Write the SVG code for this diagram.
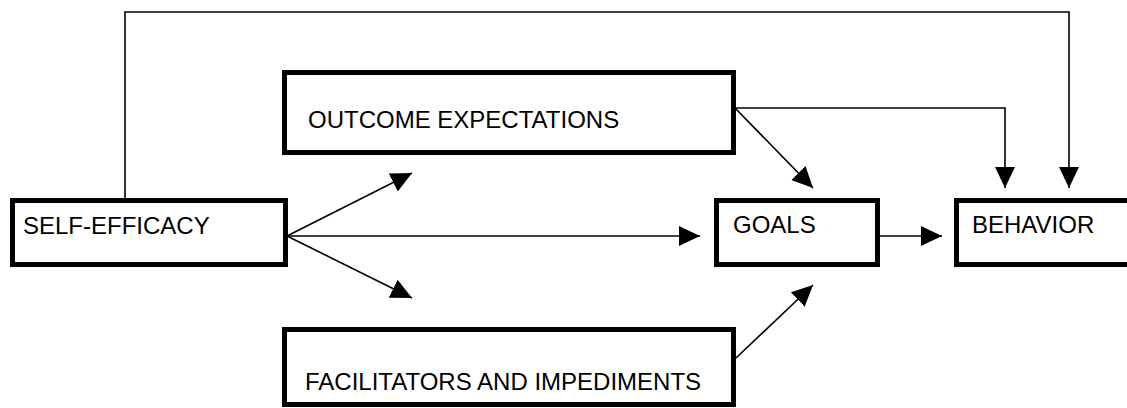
<svg xmlns="http://www.w3.org/2000/svg" width="1127" height="408" viewBox="0 0 1127 408">
<style>
.box{fill:#fff;stroke:#000;stroke-width:5}
.lbl{font-family:"Liberation Sans",Arial,sans-serif;font-size:24px;fill:#000}
.con{fill:none;stroke:#000;stroke-width:1.6}
</style>
<defs>
<marker id="ah" markerUnits="userSpaceOnUse" markerWidth="22" markerHeight="22" refX="21" refY="10" orient="auto" viewBox="0 0 22 20">
<path d="M0,0 L21,10 L0,20 z" fill="#000"/>
</marker>
</defs>
<g id="connectors">
<polyline class="con" points="125,198 125,12 1069,12 1069,188" marker-end="url(#ah)"/>
<line class="con" x1="287" y1="236" x2="412" y2="173" marker-end="url(#ah)"/>
<line class="con" x1="287" y1="236" x2="700" y2="236" marker-end="url(#ah)"/>
<line class="con" x1="287" y1="236" x2="412" y2="298" marker-end="url(#ah)"/>
<line class="con" x1="735" y1="108" x2="813" y2="188" marker-end="url(#ah)"/>
<polyline class="con" points="735,108 1005,108 1005,188" marker-end="url(#ah)"/>
<line class="con" x1="880" y1="236" x2="942" y2="236" marker-end="url(#ah)"/>
<line class="con" x1="736" y1="358" x2="813" y2="285" marker-end="url(#ah)"/>
</g>
<g id="self-efficacy">
<rect class="box" x="12.5" y="200.5" width="273" height="64"/>
<text class="lbl" x="23" y="234">SELF-EFFICACY</text>
</g>
<g id="outcome-expectations">
<rect class="box" x="284.5" y="72.5" width="449" height="80"/>
<text class="lbl" x="308" y="128">OUTCOME EXPECTATIONS</text>
</g>
<g id="facilitators">
<rect class="box" x="284.5" y="329.5" width="449" height="75"/>
<text class="lbl" x="305" y="390">FACILITATORS AND IMPEDIMENTS</text>
</g>
<g id="goals">
<rect class="box" x="716.5" y="200.5" width="161" height="64"/>
<text class="lbl" x="733" y="233">GOALS</text>
</g>
<g id="behavior">
<rect class="box" x="956.5" y="200.5" width="200" height="64"/>
<text class="lbl" x="972" y="233">BEHAVIOR</text>
</g>
</svg>
